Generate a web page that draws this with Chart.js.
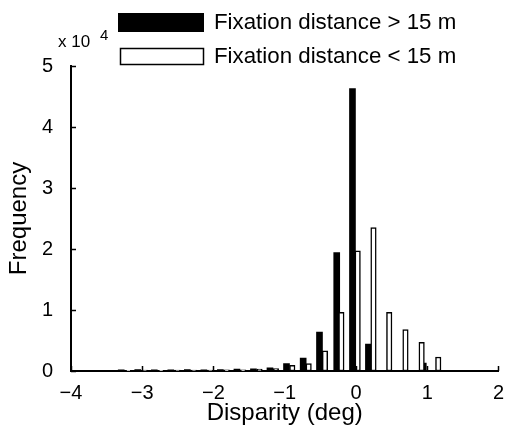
<!DOCTYPE html>
<html>
<head>
<meta charset="utf-8">
<script src="https://cdn.jsdelivr.net/npm/chart.js@4.4.0/dist/chart.umd.min.js"></script>
<style>
  body { margin: 0; background: #fff; }
  #wrap { width: 514px; height: 430px; position: relative; }
</style>
</head>
<body>
<div id="wrap"><canvas id="chart-disparity"></canvas></div>
<script>
  // histogram bins (deg) and counts
  const farX = [-3.295, -3.063, -2.831, -2.599, -2.367, -2.135, -1.903, -1.671, -1.439, -1.207,
                -0.975, -0.741, -0.512, -0.270, -0.049, 0.175, 0.945];
  const farCounts = [200, 250, 200, 200, 250, 200, 250, 300, 350, 500,
                     1200, 2100, 6400, 19400, 46300, 4400, 1300];

  const nearX = [-3.194, -2.964, -2.734, -2.504, -2.274, -2.044, -1.814, -1.584, -1.354, -1.124,
                 -0.894, -0.664, -0.435, -0.205, 0.024, 0.246, 0.467, 0.695, 0.922, 1.155];
  const nearCounts = [100, 150, 100, 150, 150, 150, 200, 200, 300, 400,
                      950, 1200, 3300, 9600, 19700, 23500, 9600, 6800, 4700, 2300];

  const xTicks = [-4, -3, -2, -1, 0, 1, 2];
  const yTicks = [0, 10000, 20000, 30000, 40000, 50000];
  const legendLabels = ['Fixation distance > 15 m', 'Fixation distance < 15 m'];

  const FONT = "'Liberation Sans', Arial, Helvetica, sans-serif";

  // matlab style: ticks point into the plot, legend + exponent drawn by hand
  const matlabBits = {
    id: 'matlabBits',
    afterDraw(chart) {
      const c = chart.ctx;
      const xs = chart.scales.x, ys = chart.scales.y;
      const a = chart.chartArea;
      c.save();
      c.strokeStyle = '#000';
      c.lineWidth = 1.5;
      c.beginPath();
      xTicks.forEach(v => {
        const px = Math.round(xs.getPixelForValue(v)) + 0.5;
        c.moveTo(px, a.bottom);
        c.lineTo(px, a.bottom - 5);
      });
      yTicks.forEach(v => {
        const py = Math.round(ys.getPixelForValue(v)) + 0.5;
        c.moveTo(a.left, py);
        c.lineTo(a.left + 5, py);
      });
      c.stroke();

      // exponent label
      c.fillStyle = '#000';
      c.textBaseline = 'alphabetic';
      c.textAlign = 'left';
      c.font = '17px ' + FONT;
      c.fillText('x 10', 58, 47);
      c.font = '15px ' + FONT;
      c.fillText('4', 100, 40);

      // legend
      c.fillRect(118, 13, 86, 19);
      c.lineWidth = 1.5;
      c.strokeRect(120.5, 48.5, 83, 16);
      c.font = '22.3px ' + FONT;
      c.textBaseline = 'middle';
      c.fillText(legendLabels[0], 214, 23);
      c.fillText(legendLabels[1], 214, 57);
      c.restore();
    }
  };

  const ctx = document.getElementById('chart-disparity').getContext('2d');
  new Chart(ctx, {
    type: 'bar',
    data: {
      datasets: [{
        label: legendLabels[0],
        data: farX.map((x, i) => ({ x: x, y: farCounts[i] })),
        backgroundColor: '#000',
        borderColor: '#000',
        borderWidth: 0,
        barThickness: 6,
        order: 1
      }, {
        label: legendLabels[1],
        data: nearX.map((x, i) => ({ x: x, y: nearCounts[i] })),
        backgroundColor: '#fff',
        borderColor: '#000',
        borderWidth: 1.5,
        borderSkipped: false,
        barThickness: 5.5,
        order: 0 // white bars sit on top of the black ones
      }]
    },
    options: {
      responsive: true,
      maintainAspectRatio: false,
      animation: false,
      layout: { padding: { top: 66, right: 15, bottom: 0, left: 0 } },
      plugins: { legend: { display: false }, tooltip: { enabled: false } },
      datasets: { bar: { grouped: false } },
      scales: {
        x: {
          type: 'linear',
          min: -4,
          max: 2,
          offset: false,
          grid: { display: false, drawTicks: false, offset: false },
          border: { display: true, color: '#000', width: 2 },
          afterFit: s => { s.height = 59; },
          afterBuildTicks: s => { s.ticks = xTicks.map(v => ({ value: v })); },
          ticks: {
            color: '#000',
            padding: 10,
            font: { family: FONT, size: 20 },
            callback: v => v < 0 ? '\u2212' + Math.abs(v) : String(v)
          },
          title: {
            display: true,
            text: 'Disparity (deg)',
            color: '#000',
            font: { family: FONT, size: 24 },
            padding: { top: 0, bottom: 2 }
          }
        },
        y: {
          min: 0,
          max: 50000,
          grid: { display: false, drawTicks: false },
          border: { display: true, color: '#000', width: 2 },
          afterFit: s => { s.width = 71; },
          afterBuildTicks: s => { s.ticks = yTicks.map(v => ({ value: v })); },
          ticks: {
            color: '#000',
            padding: 18,
            font: { family: FONT, size: 20 },
            callback: v => String(v / 10000)
          },
          title: {
            display: true,
            text: 'Frequency',
            color: '#000',
            font: { family: FONT, size: 24 },
            padding: { top: 5, bottom: 0 }
          }
        }
      }
    },
    plugins: [matlabBits]
  });
</script>
</body>
</html>
